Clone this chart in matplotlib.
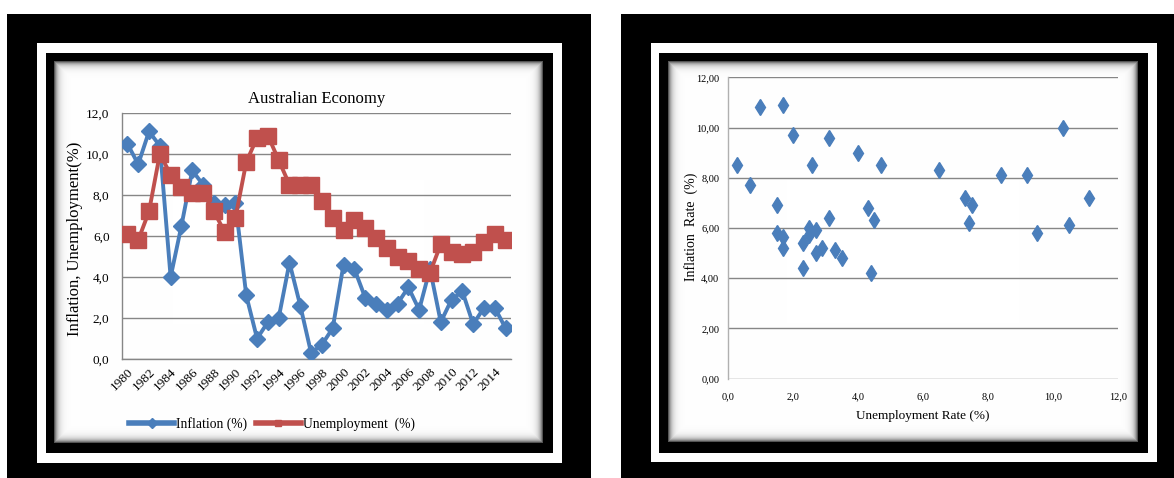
import numpy as np
import matplotlib
matplotlib.use("Agg")
import matplotlib.pyplot as plt
from matplotlib.patches import Rectangle
from matplotlib.lines import Line2D
from matplotlib.ticker import FuncFormatter

plt.rcParams['font.family'] = ['Liberation Serif', 'DejaVu Serif']

# ---------------- data ----------------
years = list(range(1980, 2016))
inflation = [10.5, 9.5, 11.1, 10.4, 4.0, 6.5, 9.2, 8.5, 7.6, 7.5,
             7.6, 3.1, 1.0, 1.8, 2.0, 4.7, 2.6, 0.3, 0.7, 1.5,
             4.6, 4.4, 3.0, 2.7, 2.4, 2.7, 3.5, 2.4, 4.4, 1.8,
             2.9, 3.3, 1.7, 2.5, 2.5, 1.5]
unemployment = [6.1, 5.8, 7.2, 10.0, 9.0, 8.4, 8.1, 8.1, 7.2, 6.2,
                6.9, 9.6, 10.8, 10.9, 9.7, 8.5, 8.5, 8.5, 7.7, 6.9,
                6.3, 6.8, 6.4, 5.9, 5.4, 5.0, 4.8, 4.4, 4.2, 5.6,
                5.2, 5.1, 5.2, 5.7, 6.1, 5.8]
year_tick_labels = [str(y) for y in range(1980, 2015, 2)]

scatter_unemp = [0.3, 0.7, 1.0, 1.5, 1.5, 1.7, 1.7, 1.7, 2.0, 2.3, 2.3, 2.5,
                 2.5, 2.6, 2.7, 2.7, 2.9, 3.1, 3.1, 3.3, 3.5, 4.0, 4.3, 4.4,
                 4.5, 4.7, 6.5, 7.3, 7.5, 7.4, 8.4, 9.2, 9.5, 10.3, 10.5, 11.1]
scatter_infl = [8.5, 7.7, 10.8, 6.9, 5.8, 10.9, 5.65, 5.2, 9.7, 5.4, 4.4, 6.0,
                5.7, 8.5, 5.9, 5.0, 5.2, 9.6, 6.4, 5.1, 4.8, 9.0, 6.8, 4.2,
                6.3, 8.5, 8.3, 7.2, 6.9, 6.2, 8.1, 8.1, 5.8, 10.0, 6.1, 7.2]

BLUE = '#4A7EBB'
RED = '#C0504D'
GRID = '#868686'

W, H = 1174, 478
fig = plt.figure(figsize=(W / 100, H / 100), dpi=100)

# ---------------- decorative frames ----------------
bg = fig.add_axes([0, 0, 1, 1], zorder=0)
bg.set_xlim(0, W)
bg.set_ylim(H, 0)
bg.axis('off')


def frame(x0, y0, x1, y1, color):
    bg.add_patch(Rectangle((x0, y0), x1 - x0, y1 - y0, facecolor=color,
                           edgecolor='none'))


def vignette(x0, y0, x1, y1):
    w = int(round(x1 - x0))
    h = int(round(y1 - y0))
    xx = np.arange(w) + 0.5
    yy = np.arange(h) + 0.5
    dx = np.minimum(xx, w - xx)[None, :]
    dy = np.minimum(yy, h - yy)[:, None]
    d = np.minimum(dx, dy)
    g = 1 - 0.78 * np.exp(-d / 3.2)
    img = np.dstack([g, g, g])
    bg.imshow(img, extent=(x0, x1, y1, y0), aspect='auto',
              interpolation='bilinear', zorder=2)


# left panel
frame(7, 14, 591, 478, 'black')
frame(36.7, 43.3, 561.7, 462.7, 'white')
frame(45.7, 52.7, 553.3, 453.3, 'black')
vignette(54.3, 61.7, 542.7, 443.3)
# right panel
frame(620.7, 14, 1174, 478, 'black')
frame(650.7, 43.3, 1156.7, 461.7, 'white')
frame(659, 52.7, 1147.7, 452.7, 'black')
vignette(668.3, 61.7, 1138.3, 442.3)
bg.set_xlim(0, W)
bg.set_ylim(H, 0)


def fax(x0, y0, x1, y1):
    return fig.add_axes([x0 / W, 1 - y1 / H, (x1 - x0) / W, (y1 - y0) / H],
                        zorder=5)


# ---------------- left: line chart ----------------
ax = fax(122, 113, 511, 359)
ax.set_facecolor('none')
xpos = np.arange(len(years))
ax.plot(xpos, inflation, color=BLUE, lw=2.8, marker='D', ms=8.5,
        markeredgecolor=BLUE, zorder=3)
ax.plot(xpos, unemployment, color=RED, lw=2.8, marker='s', ms=11,
        markeredgecolor=RED, zorder=4)
ax.set_xlim(-0.5, len(years) - 0.5)
ax.set_ylim(0, 12)
ax.set_yticks(np.arange(0, 12.1, 2))
ax.yaxis.set_major_formatter(FuncFormatter(lambda v, p: f"{v:.1f}".replace('.', ',')))
ax.set_xticks(xpos[::2])
ax.set_xticklabels(year_tick_labels, rotation=45, ha='right', va='top',
                   rotation_mode='anchor')
ax.tick_params(axis='both', length=0, labelsize=9.5)
ax.tick_params(axis='y', pad=9)
ax.tick_params(axis='x', pad=5)
ax.grid(axis='y', color=GRID, lw=1)
ax.set_axisbelow(True)
for s in ['top', 'right']:
    ax.spines[s].set_visible(False)
for s in ['left', 'bottom']:
    ax.spines[s].set_color(GRID)
    ax.spines[s].set_linewidth(1)
ax.set_title('Australian Economy', fontsize=12, pad=7)
ax.set_ylabel('Inflation, Unemployment(%)', fontsize=12)
ax.yaxis.set_label_coords(-0.100, 0.49)

handles = [Line2D([], [], color=BLUE, lw=4, marker='D', ms=5),
           Line2D([], [], color=RED, lw=4, marker='s', ms=5)]
ax.legend(handles, ['Inflation (%)', 'Unemployment  (%)'], loc='center',
          bbox_to_anchor=(272 / W, 1 - 424 / H), bbox_transform=fig.transFigure,
          ncol=2, frameon=False, fontsize=9.8, handlelength=3.3,
          handletextpad=0.15, columnspacing=0.6, numpoints=1)

# ---------------- right: scatter ----------------
ax2 = fax(727.7, 77.3, 1118.3, 378.5)
ax2.set_facecolor('none')
ax2.plot(scatter_unemp, scatter_infl, linestyle='none', marker='d', ms=8,
         color=BLUE, markeredgecolor=BLUE, zorder=3)
ax2.set_xlim(0, 12)
ax2.set_ylim(0, 12)
ax2.set_xticks(np.arange(0, 12.1, 2))
ax2.set_yticks(np.arange(0, 12.1, 2))
ax2.xaxis.set_major_formatter(FuncFormatter(lambda v, p: f"{v:.1f}".replace('.', ',')))
ax2.yaxis.set_major_formatter(FuncFormatter(lambda v, p: f"{v:.2f}".replace('.', ',')))
ax2.tick_params(axis='both', length=0, labelsize=7.5)
ax2.tick_params(axis='y', pad=6)
ax2.tick_params(axis='x', pad=10)
ax2.grid(axis='y', color=GRID, lw=1)
ax2.set_axisbelow(True)
for s in ['top', 'right', 'bottom']:
    ax2.spines[s].set_visible(False)
ax2.spines['left'].set_color('#B0B0B0')
ax2.spines['left'].set_linewidth(1)
ax2.set_xlabel('Unemployment Rate (%)', fontsize=9.5, labelpad=6)
ax2.set_ylabel('Inflation  Rate  (%)', fontsize=10)
ax2.yaxis.set_label_coords(-0.077, 0.505)

fig.savefig('out.png', dpi=100)
